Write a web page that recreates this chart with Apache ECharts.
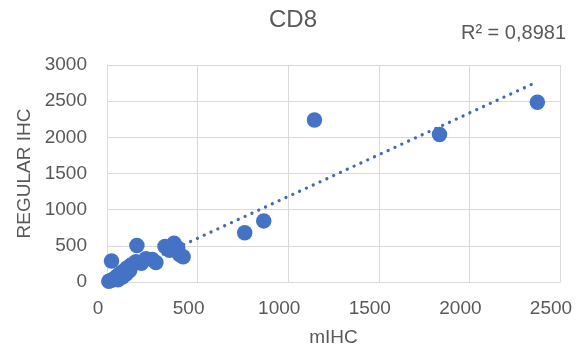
<!DOCTYPE html>
<html>
<head>
<meta charset="utf-8">
<script src="https://cdn.jsdelivr.net/npm/echarts@6/dist/echarts.min.js"></script>
<style>
  html, body { margin: 0; padding: 0; background: #fff; }
  #chart { width: 579px; height: 356px; }
</style>
</head>
<body>
<div id="chart"></div>
<script>
// mIHC vs regular IHC
var mihc = [10, 25, 40, 55, 70, 90, 110, 130, 25, 60, 85, 105, 140, 160, 125, 165, 190, 215, 250, 270,
  320, 345, 370, 390, 400, 420, 760, 865, 1145, 1835, 2375];
var regularIhc = [10, 25, 50, 80, 110, 150, 195, 230, 290, 30, 70, 110, 240, 280, 160, 505, 260, 320, 310, 270,
  490, 440, 535, 470, 380, 350, 680, 845, 2240, 2040, 2485];
var xTicks = [0, 500, 1000, 1500, 2000, 2500];
var yTicks = [0, 500, 1000, 1500, 2000, 2500, 3000];
// linear trendline as shown in the picture
var trendSlope = 1.154;
var trendIntercept = 28;
var rSquared = '0,8981';

var textColor = '#595959';
var gridColor = '#d9d9d9';
var font = 'Liberation Sans';

var points = mihc.map(function (x, i) { return [x, regularIhc[i]]; });
var minX = Math.min.apply(null, mihc);
var maxX = Math.max.apply(null, mihc);
var trend = [minX, maxX].map(function (x) { return [x, trendSlope * x + trendIntercept]; });

var myChart = echarts.init(document.getElementById('chart'));
var option = {
  animation: false,
  textStyle: { fontFamily: font },
  grid: { left: 107, right: 19, top: 65, bottom: 74 },
  graphic: [
    {
      type: 'text', x: 293, y: 20,
      style: { text: 'CD8', fontFamily: font, fontSize: 24, fill: textColor, textAlign: 'center', textVerticalAlign: 'middle' }
    },
    {
      type: 'text', x: 566, y: 33,
      style: { text: 'R\u00b2 = ' + rSquared, fontFamily: font, fontSize: 20, fill: textColor, textAlign: 'right', textVerticalAlign: 'middle' }
    }
  ],
  xAxis: {
    type: 'value',
    min: xTicks[0],
    max: xTicks[xTicks.length - 1],
    interval: 500,
    name: 'mIHC',
    nameLocation: 'middle',
    nameGap: 46,
    nameTextStyle: { color: textColor, fontSize: 19, fontFamily: font },
    axisLine: { show: true, lineStyle: { color: gridColor } },
    axisTick: { show: false },
    axisLabel: { color: textColor, fontSize: 19, fontFamily: font, margin: 17, padding: [0, 18, 0, 0], formatter: function (v) { return String(v); } },
    splitLine: { show: true, lineStyle: { color: gridColor, width: 1 } }
  },
  yAxis: {
    type: 'value',
    min: yTicks[0],
    max: yTicks[yTicks.length - 1],
    interval: 500,
    name: 'REGULAR IHC',
    nameLocation: 'middle',
    nameGap: 70,
    nameTextStyle: { color: textColor, fontSize: 19, fontFamily: font },
    axisLine: { show: true, lineStyle: { color: gridColor } },
    axisTick: { show: false },
    axisLabel: { color: textColor, fontSize: 19, fontFamily: font, margin: 20, formatter: function (v) { return String(v); } },
    splitLine: { show: true, lineStyle: { color: gridColor, width: 1 } }
  },
  series: [
    {
      name: 'trend',
      type: 'line',
      data: trend,
      symbol: 'none',
      z: 1,
      lineStyle: { color: '#4569b0', width: 3.2, type: [0.1, 7.4], cap: 'round' }
    },
    {
      name: 'CD8',
      type: 'scatter',
      data: points,
      symbolSize: 15.5,
      z: 2,
      itemStyle: { color: '#4472c4', opacity: 1 }
    }
  ]
};
myChart.setOption(option);
</script>
</body>
</html>
